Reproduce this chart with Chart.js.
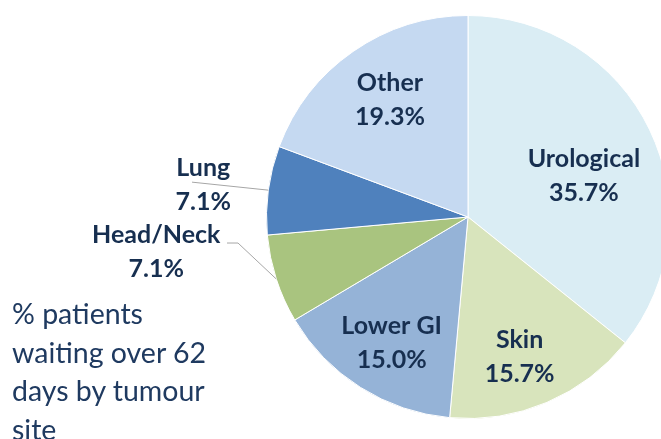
<!DOCTYPE html>
<html>
<head>
<meta charset="utf-8">
<script src="https://cdn.jsdelivr.net/npm/chart.js@4"></script>
<style>
  html, body { margin: 0; padding: 0; background: #fff; }
  body { width: 661px; height: 439px; overflow: hidden; position: relative; }
  #wrap { position: absolute; left: 0; top: 0; width: 936px; height: 434px; }
  #note {
    position: absolute; left: 12px; top: 294px; width: 260px;
    font-family: Lato, sans-serif; font-size: 28.5px; line-height: 38.5px;
    color: #1f3a60; white-space: nowrap;
  }
</style>
</head>
<body>
<div id="wrap"><canvas id="myPieChart" width="936" height="434"></canvas></div>
<div id="note">% patients<br>waiting over 62<br>days by tumour<br>site</div>
<script>
var labels = ['Urological', 'Skin', 'Lower GI', 'Head/Neck', 'Lung', 'Other'];
var values = [35.7, 15.7, 15.0, 7.1, 7.1, 19.3];
var colors = ['#daedf4', '#d8e4bc', '#95b3d7', '#a9c47f', '#4f81bd', '#c5d9f1'];

// where the inside labels sit: fraction of radius and a small angle nudge (deg)
var insidePos = {
    'Urological': [0.61, 6.2],
    'Skin': [0.74, 2.8],
    'Lower GI': [0.73, -1],
    'Other': [0.70, 1.2]
};

var labelPlugin = {
    id: 'sliceLabels',
    afterDraw: function(chart) {
        var ctx = chart.ctx;
        var meta = chart.getDatasetMeta(0);
        ctx.save();
        ctx.font = 'bold 25px Lato, sans-serif';
        ctx.fillStyle = '#172f50';
        ctx.textBaseline = 'middle';
        ctx.textAlign = 'center';
        for (var i = 0; i < meta.data.length; i++) {
            var arc = meta.data[i];
            var mid = (arc.startAngle + arc.endAngle) / 2;
            var pct = values[i].toFixed(1) + '%';
            var p = insidePos[labels[i]];
            if (p) {
                var a = mid + p[1] * Math.PI / 180;
                var r = arc.outerRadius * p[0];
                var x = arc.x + Math.cos(a) * r;
                var y = arc.y + Math.sin(a) * r;
                ctx.fillText(labels[i], x, y - 17);
                ctx.fillText(pct, x, y + 17);
            } else {
                // outside label with leader line to the slice edge
                var ex = arc.x + Math.cos(mid) * arc.outerRadius;
                var ey = arc.y + Math.sin(mid) * arc.outerRadius;
                ctx.strokeStyle = '#a6a6a6';
                ctx.lineWidth = 1;
                ctx.beginPath();
                if (labels[i] == 'Lung') {
                    ctx.moveTo(192, ey - 8);
                    ctx.lineTo(ex, ey);
                    ctx.stroke();
                    ctx.fillText(labels[i], ex - 65, ey - 22);
                    ctx.fillText(pct, ex - 65, ey + 12);
                } else {
                    ctx.moveTo(227, ey - 36);
                    ctx.lineTo(238, ey - 36);
                    ctx.lineTo(ex, ey);
                    ctx.stroke();
                    ctx.fillText(labels[i], ex - 120, ey - 44);
                    ctx.fillText(pct, ex - 120, ey - 10);
                }
            }
        }
        ctx.restore();
    }
};

var ctx = document.getElementById('myPieChart').getContext('2d');
var myChart = new Chart(ctx, {
    type: 'pie',
    data: {
        labels: labels,
        datasets: [{
            data: values,
            backgroundColor: colors,
            borderColor: '#ffffff',
            borderWidth: 1
        }]
    },
    options: {
        responsive: false,
        animation: false,
        devicePixelRatio: 1,
        layout: { padding: 15 },
        plugins: {
            legend: { display: false },
            tooltip: { enabled: false }
        }
    },
    plugins: [labelPlugin]
});
</script>
</body>
</html>
